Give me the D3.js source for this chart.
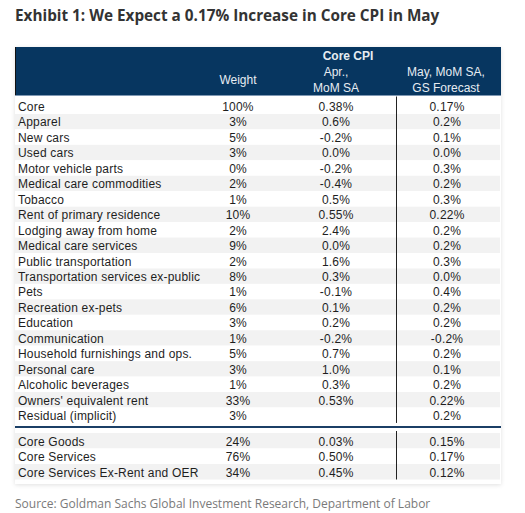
<!DOCTYPE html>
<html>
<head>
<meta charset="utf-8">
<script src="https://cdn.jsdelivr.net/npm/d3@7"></script>
<style>
  body { margin: 0; background: #fff; }
  svg text { font-family: "Liberation Sans", Arial, sans-serif; }
</style>
</head>
<body>
<div id="chart"></div>
<script>
var svgWidth = 525;
var svgHeight = 513;

// table rows
var categories = ["Core", "Apparel", "New cars", "Used cars", "Motor vehicle parts",
  "Medical care commodities", "Tobacco", "Rent of primary residence", "Lodging away from home",
  "Medical care services", "Public transportation", "Transportation services ex-public", "Pets",
  "Recreation ex-pets", "Education", "Communication", "Household furnishings and ops.",
  "Personal care", "Alcoholic beverages", "Owners' equivalent rent", "Residual (implicit)"];
var weights = ["100%", "3%", "5%", "3%", "0%", "2%", "1%", "10%", "2%", "9%", "2%", "8%", "1%",
  "6%", "3%", "1%", "5%", "3%", "1%", "33%", "3%"];
var aprValues = ["0.38%", "0.6%", "-0.2%", "0.0%", "-0.2%", "-0.4%", "0.5%", "0.55%", "2.4%",
  "0.0%", "1.6%", "0.3%", "-0.1%", "0.1%", "0.2%", "-0.2%", "0.7%", "1.0%", "0.3%", "0.53%", ""];
var mayValues = ["0.17%", "0.2%", "0.1%", "0.0%", "0.3%", "0.2%", "0.3%", "0.22%", "0.2%",
  "0.2%", "0.3%", "0.0%", "0.4%", "0.2%", "0.2%", "-0.2%", "0.2%", "0.1%", "0.2%", "0.22%", "0.2%"];

// summary rows
var summaryCategories = ["Core Goods", "Core Services", "Core Services Ex-Rent and OER"];
var summaryWeights = ["24%", "76%", "34%"];
var summaryApr = ["0.03%", "0.50%", "0.45%"];
var summaryMay = ["0.15%", "0.17%", "0.12%"];

var columns = ["label", "weight", "apr", "may"];

var navy = "#073660";
var stripe = "#f2f2f2";
var textColor = "#1e1e1e";

var svg = d3.select("#chart")
  .append("svg")
  .attr("width", svgWidth)
  .attr("height", svgHeight);

svg.append("rect")
  .attr("width", "100%")
  .attr("height", "100%")
  .attr("fill", "white");

// title
svg.append("text")
  .attr("x", 15)
  .attr("y", 21)
  .attr("fill", "#333")
  .style("font-family", "'Open Sans', sans-serif")
  .style("font-weight", "bold")
  .style("font-size", "15.3px")
  .text("Exhibit 1: We Expect a 0.17% Increase in Core CPI in May");

// card shadow
var defs = svg.append("defs");
var filter = defs.append("filter").attr("id", "shadow")
  .attr("x", "-5%").attr("y", "-5%").attr("width", "110%").attr("height", "110%");
filter.append("feDropShadow")
  .attr("dx", 0).attr("dy", 1).attr("stdDeviation", 2)
  .attr("flood-color", "#000").attr("flood-opacity", 0.12);

var tableLeft = 15, tableRight = 501;
svg.append("rect")
  .attr("x", tableLeft)
  .attr("y", 47)
  .attr("width", tableRight - tableLeft)
  .attr("height", 437)
  .attr("fill", "white")
  .attr("filter", "url(#shadow)");

// column positions
var x = d3.scaleOrdinal()
  .domain(columns)
  .range([18, 238, 336, 447]);
var dividerX = 396.5;

// header
var header = svg.append("g");
header.append("rect")
  .attr("x", tableLeft)
  .attr("y", 47)
  .attr("width", tableRight - tableLeft)
  .attr("height", 48)
  .attr("fill", navy);
header.append("line")
  .attr("x1", tableLeft + 0.5).attr("x2", tableLeft + 0.5)
  .attr("y1", 47).attr("y2", 95)
  .attr("stroke", "#111").attr("stroke-width", 1);
header.append("line")
  .attr("x1", tableLeft).attr("x2", tableRight)
  .attr("y1", 95.5).attr("y2", 95.5)
  .attr("stroke", "#7f98b3").attr("stroke-width", 1);

var headColor = "#e6ecf2";
header.append("text")
  .attr("x", 348).attr("y", 59.5)
  .attr("text-anchor", "middle")
  .attr("fill", headColor)
  .style("font-size", "12px")
  .style("font-weight", "bold")
  .text("Core CPI");

var headLines = [
  {col: "weight", lines: ["Weight"], y: [84]},
  {col: "apr", lines: ["Apr.,", "MoM SA"], y: [76, 92]},
  {col: "may", lines: ["May, MoM SA,", "GS Forecast"], y: [76, 92]}
];
headLines.forEach(function(h) {
  h.lines.forEach(function(line, i) {
    header.append("text")
      .attr("x", h.col === "may" ? 446 : x(h.col))
      .attr("y", h.y[i])
      .attr("text-anchor", "middle")
      .attr("fill", headColor)
      .style("font-size", "12px")
      .text(line);
  });
});

// main body rows
var mainRows = categories.map(function(c, i) {
  return {label: c, weight: weights[i], apr: aprValues[i], may: mayValues[i]};
});
var summaryRows = summaryCategories.map(function(c, i) {
  return {label: c, weight: summaryWeights[i], apr: summaryApr[i], may: summaryMay[i]};
});

var yMain = d3.scaleBand()
  .domain(d3.range(mainRows.length))
  .range([98.5, 98.5 + 15.45 * mainRows.length]);
var ySummary = d3.scaleBand()
  .domain(d3.range(summaryRows.length))
  .range([433, 433 + 15.5 * summaryRows.length]);

function drawRows(rows, y, cls) {
  var g = svg.append("g").attr("class", cls);
  g.selectAll("rect")
    .data(rows)
    .enter()
    .append("rect")
    .attr("x", tableLeft)
    .attr("y", (d, i) => y(i))
    .attr("width", tableRight - tableLeft - 1)
    .attr("height", y.bandwidth())
    .attr("fill", (d, i) => (i % 2 === 1) === (cls === "main") ? stripe : "white");

  columns.forEach(function(col) {
    g.selectAll("text." + col)
      .data(rows)
      .enter()
      .append("text")
      .attr("class", col)
      .attr("x", x(col))
      .attr("y", (d, i) => y(i) + y.bandwidth() / 2 + 4.8)
      .attr("text-anchor", col === "label" ? "start" : "middle")
      .attr("fill", textColor)
      .style("font-size", "12px")
      .style("letter-spacing", "0.2px")
      .text(d => d[col]);
  });

  var r = y.range();
  g.append("line")
    .attr("x1", dividerX).attr("x2", dividerX)
    .attr("y1", r[0] - 2).attr("y2", r[1])
    .attr("stroke", "#222").attr("stroke-width", 1);
}

drawRows(mainRows, yMain, "main");
drawRows(summaryRows, ySummary, "summary");

// separator between sections
svg.append("line")
  .attr("x1", tableLeft).attr("x2", tableRight)
  .attr("y1", 427).attr("y2", 427)
  .attr("stroke", "#1b3f66").attr("stroke-width", 2);

// source
svg.append("text")
  .attr("x", 15)
  .attr("y", 508)
  .attr("fill", "#7a7a7a")
  .style("font-family", "'Open Sans', sans-serif")
  .style("font-size", "12px")
  .text("Source: Goldman Sachs Global Investment Research, Department of Labor");
</script>
</body>
</html>
